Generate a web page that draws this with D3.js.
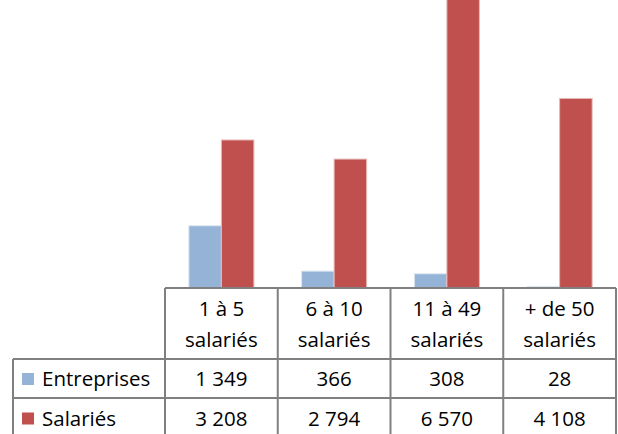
<!DOCTYPE html>
<html>
<head>
<meta charset="utf-8">
<script src="https://cdn.jsdelivr.net/npm/d3@7"></script>
<style>
  html, body { margin: 0; padding: 0; background: #fff; }
  svg { display: block; font-family: "Open Sans", Lato, sans-serif; }
</style>
</head>
<body>
<div id="chart"></div>
<script>
// Excel-style clustered bars with a data table underneath.

const categories = [['1 à 5', 'salariés'], ['6 à 10', 'salariés'], ['11 à 49', 'salariés'], ['+ de 50', 'salariés']];
const seriesNames = ['Entreprises', 'Salariés'];
const entreprises = [1349, 366, 308, 28];
const salaries = [3208, 2794, 6570, 4108];
const labelsEntreprises = ['1 349', '366', '308', '28'];
const labelsSalaries = ['3 208', '2 794', '6 570', '4 108'];
const colors = ['#95b3d7', '#c0504d'];

const W = 618, H = 434;
const baseY = 288;          // bottom of the plot area / top of table
const tableLeft = 13, tableRight = 616;
const rowTops = [288, 359, 398, 438];
const fontSize = 20.5;

const svg = d3.select('#chart').append('svg')
  .attr('width', W).attr('height', H)
  .attr('viewBox', `0 0 ${W} ${H}`);

const keys = categories.map((c) => c.join(' '));
const x0 = d3.scaleBand().domain(keys).range([165, tableRight]).paddingInner(0).paddingOuter(0);
const x1 = d3.scaleBand().domain(seriesNames).range([0, x0.bandwidth()]).paddingInner(0).paddingOuter(0.734);
// top of plot sits above the visible window (tall bar is clipped)
const y = d3.scaleLinear().domain([0, 7000]).range([baseY, baseY - 323]);

const rows = keys.map((k, i) => ({ key: k, values: [entreprises[i], salaries[i]] }));

// bars
const group = svg.append('g').selectAll('g').data(rows).join('g')
  .attr('transform', (d) => `translate(${x0(d.key)},0)`);

group.selectAll('rect').data((d) => d.values.map((v, j) => ({ s: seriesNames[j], v, j })))
  .join('rect')
  .attr('x', (d) => x1(d.s))
  .attr('y', (d) => y(d.v))
  .attr('width', x1.bandwidth())
  .attr('height', (d) => baseY - y(d.v))
  .attr('fill', (d) => colors[d.j])
  .attr('stroke', (d) => d.j === 0 ? '#dce6f2' : '#e6b9b8')
  .attr('stroke-width', 1);

// table grid
const grid = svg.append('g').attr('stroke', '#808080').attr('stroke-width', 2).attr('fill', 'none');
const colEdges = keys.map((k) => x0(k)).concat([tableRight]);

grid.append('line').attr('x1', colEdges[0]).attr('x2', tableRight).attr('y1', rowTops[0]).attr('y2', rowTops[0]);
[rowTops[1], rowTops[2]].forEach((ry) => {
  grid.append('line').attr('x1', tableLeft).attr('x2', tableRight).attr('y1', ry).attr('y2', ry);
});
grid.append('line').attr('x1', tableLeft).attr('x2', tableLeft).attr('y1', rowTops[1]).attr('y2', H);
colEdges.forEach((cx) => {
  grid.append('line').attr('x1', cx).attr('x2', cx).attr('y1', rowTops[0]).attr('y2', H);
});

// header text
const txt = svg.append('g').attr('fill', '#000').attr('font-size', fontSize).attr('text-anchor', 'middle');
categories.forEach((c, i) => {
  const cx = x0(keys[i]) + x0.bandwidth() / 2;
  txt.append('text').attr('x', cx).attr('y', 316).text(c[0]);
  txt.append('text').attr('x', cx).attr('y', 346.5).text(c[1]);
  txt.append('text').attr('x', cx).attr('y', 386).text(labelsEntreprises[i]);
  txt.append('text').attr('x', cx).attr('y', 425.5).text(labelsSalaries[i]);
});

// series legend cells
const legendY = [386, 425.5];
seriesNames.forEach((name, j) => {
  svg.append('rect')
    .attr('x', 22).attr('y', legendY[j] - 13)
    .attr('width', 12).attr('height', 12)
    .attr('fill', colors[j]);
  svg.append('text')
    .attr('x', 42).attr('y', legendY[j])
    .attr('font-size', fontSize).attr('fill', '#000')
    .text(name);
});
</script>
</body>
</html>
